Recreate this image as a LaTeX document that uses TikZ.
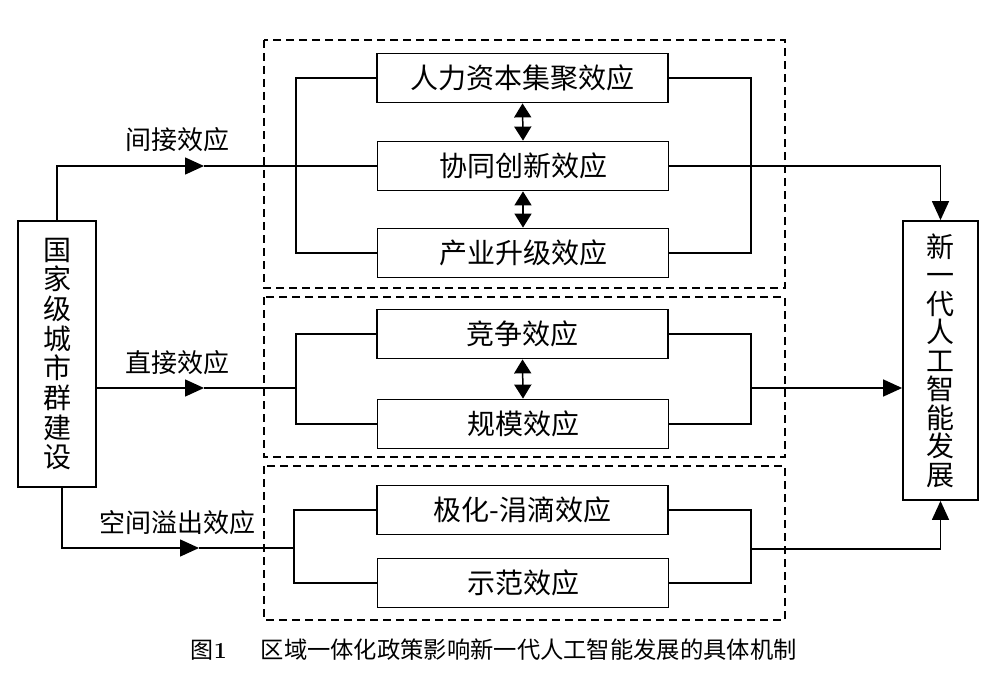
\documentclass[tikz,border=0pt]{standalone}
\usepackage{fontspec}
\newfontfamily\cjk{Noto Sans CJK SC}
\usetikzlibrary{arrows.meta}
\begin{document}
\begin{tikzpicture}[x=1pt,y=-1pt,line width=1.5pt,
  box/.style={draw,line width=1.8pt,minimum width=291pt,minimum height=49pt,inner sep=0pt,font=\cjk\fontsize{28}{30}\selectfont},
  grp/.style={draw,dash pattern=on 8pt off 5pt,line width=1.8pt},
  lab/.style={font=\cjk\fontsize{26}{28}\selectfont,inner sep=0pt},
  arr/.style={-{Triangle[length=19pt,width=17pt]}},
  dbl/.style={{Triangle[length=14pt,width=17pt]}-{Triangle[length=14pt,width=17pt]}}]
\useasboundingbox (0,0) rectangle (1000,698);
\fill[white] (0,0) rectangle (1000,698);
% dashed groups
\draw[grp] (264,40) rectangle (785,288);
\draw[grp] (264,297) rectangle (785,457);
\draw[grp] (264,466) rectangle (785,620);
% inner boxes
\node[box] (hc) at (522.5,78) {人力资本集聚效应};
\node[box] (xt) at (523,166) {协同创新效应};
\node[box] (cy) at (523,253) {产业升级效应};
\node[box] (jz) at (522.5,334) {竞争效应};
\node[box] (gm) at (523,424) {规模效应};
\node[box] (jh) at (522.5,510) {极化-涓滴效应};
\node[box] (sf) at (523,583) {示范效应};
% side boxes
\node[draw,line width=1.8pt,minimum width=78pt,minimum height=266pt,inner sep=0pt,align=center,font=\cjk\fontsize{28}{29.7}\selectfont] (lb) at (57,354) {国\\家\\级\\城\\市\\群\\建\\设};
\node[draw,line width=1.8pt,minimum width=75pt,minimum height=279pt,inner sep=0pt,align=center,font=\cjk\fontsize{28}{28.5}\selectfont] (rb) at (940.5,360.5) {新\\一\\代\\人\\工\\智\\能\\发\\展};
% labels
\node[lab] (l1) at (177,140) {间接效应};
\node[lab] (l2) at (177,363) {直接效应};
\node[lab] (l3) at (177,523) {空间溢出效应};
% indirect
\coordinate (a1) at (204,166);
\draw[arr] (lb.north) |- (a1);
\draw (a1) -- (xt.west);
\draw[arr] (xt.east) -| (rb.north);
\draw (hc.west) -| (296,166) |- (cy.west);
\draw (hc.east) -| (751,166) |- (cy.east);
\draw[dbl] (hc.south) -- (xt.north);
\draw[dbl] (xt.south) -- (cy.north);
% direct
\coordinate (a2) at (204,388);
\draw[arr] (lb.east |- a2) -- (a2);
\draw (a2) -- (296,388);
\draw (jz.west) -| (296,388) |- (gm.west);
\draw (jz.east) -| (751,388) |- (gm.east);
\draw[arr] (751,388) -- (rb.west |- a2);
\draw[dbl] (jz.south) -- (gm.north);
% spillover
\coordinate (a3) at (199,548);
\draw[arr] ([xshift=5pt]lb.south) |- (a3);
\draw (a3) -- (294,548);
\draw (jh.west) -| (294,548) |- (sf.west);
\draw (jh.east) -| (751,549) |- (sf.east);
\draw[arr] (751,549) -| (rb.south);
% caption
\node[anchor=west,inner sep=0pt,font=\fontsize{23}{25}\selectfont] (cap1) at (190,650) {{\cjk 图}\textbf{1}};
\node[anchor=west,inner sep=0pt,font=\cjk\fontsize{23.3}{25}\selectfont] (cap2) at (260,650) {区域一体化政策影响新一代人工智能发展的具体机制};
\end{tikzpicture}
\end{document}
